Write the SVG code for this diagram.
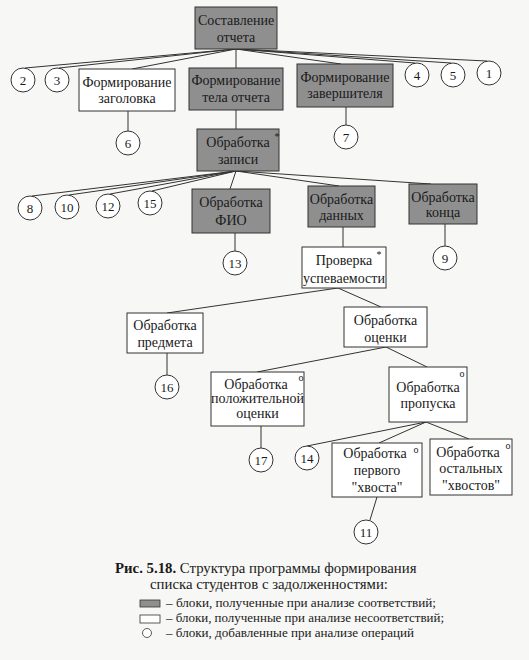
<svg xmlns="http://www.w3.org/2000/svg" width="529" height="660" viewBox="0 0 529 660">
<style>
  .g{fill:#8f8f8f;stroke:#333;stroke-width:1}
  .w{fill:#fff;stroke:#333;stroke-width:1}
  .c{fill:#fff;stroke:#333;stroke-width:1}
  .t{font-family:"Liberation Serif","Times New Roman",serif;font-size:14px;fill:#1a1a1a;text-anchor:middle}
  .n{font-family:"Liberation Serif","Times New Roman",serif;font-size:13px;fill:#1a1a1a;text-anchor:middle}
  .m{font-family:"Liberation Serif","Times New Roman",serif;font-size:10px;fill:#1a1a1a;text-anchor:middle}
  .cap{font-family:"Liberation Serif","Times New Roman",serif;font-size:14.8px;fill:#1a1a1a}
  .leg{font-family:"Liberation Serif","Times New Roman",serif;font-size:12px;fill:#1a1a1a}
  #connectors line{stroke:#333;stroke-width:1}
</style>
<rect width="529" height="660" fill="#f7f7f5"/>
<g id="connectors">
  <line x1="236" y1="49" x2="25" y2="68"/>
  <line x1="236" y1="49" x2="59" y2="68"/>
  <line x1="236" y1="49" x2="132" y2="69"/>
  <line x1="236" y1="49" x2="236" y2="68"/>
  <line x1="236" y1="49" x2="341" y2="64"/>
  <line x1="236" y1="49" x2="415" y2="63"/>
  <line x1="236" y1="49" x2="451" y2="63"/>
  <line x1="236" y1="49" x2="487" y2="61"/>
  <line x1="128" y1="111" x2="128" y2="131"/>
  <line x1="236" y1="110" x2="236" y2="129"/>
  <line x1="346" y1="107" x2="346" y2="125"/>
  <line x1="236" y1="171" x2="32" y2="196"/>
  <line x1="236" y1="171" x2="69" y2="195"/>
  <line x1="236" y1="171" x2="110" y2="194"/>
  <line x1="236" y1="171" x2="152" y2="191"/>
  <line x1="236" y1="171" x2="230" y2="189"/>
  <line x1="236" y1="171" x2="339" y2="186"/>
  <line x1="236" y1="171" x2="431" y2="184"/>
  <line x1="235" y1="233" x2="235" y2="251"/>
  <line x1="343" y1="227" x2="343" y2="247"/>
  <line x1="445" y1="224" x2="445" y2="246"/>
  <line x1="338" y1="288" x2="167" y2="313"/>
  <line x1="338" y1="288" x2="381" y2="307"/>
  <line x1="167" y1="353" x2="167" y2="375"/>
  <line x1="386" y1="347" x2="257" y2="372"/>
  <line x1="386" y1="347" x2="427" y2="367"/>
  <line x1="261" y1="426" x2="261" y2="448"/>
  <line x1="426" y1="422" x2="307" y2="446"/>
  <line x1="426" y1="422" x2="379" y2="443"/>
  <line x1="426" y1="422" x2="469" y2="439"/>
  <line x1="377" y1="497" x2="370" y2="520"/>
</g>
<g id="root"><rect class="g" x="195" y="7" width="82" height="42"/><text class="t" x="236" y="25">Составление</text><text class="t" x="236" y="42">отчета</text></g>
<g id="c2"><circle class="c" cx="23" cy="80" r="12"/><text class="n" x="23" y="84.5">2</text></g>
<g id="c3"><circle class="c" cx="57" cy="80" r="12"/><text class="n" x="57" y="84.5">3</text></g>
<g id="zag"><rect class="w" x="79" y="69" width="96" height="42"/><text class="t" x="127" y="86.5">Формирование</text><text class="t" x="127" y="103">заголовка</text></g>
<g id="telo"><rect class="g" x="189" y="68" width="94" height="42"/><text class="t" x="236" y="85">Формирование</text><text class="t" x="236" y="102">тела отчета</text></g>
<g id="zav"><rect class="g" x="297" y="64" width="96" height="43"/><text class="t" x="345" y="81.5">Формирование</text><text class="t" x="345" y="98">завершителя</text></g>
<g id="c4"><circle class="c" cx="417" cy="75" r="12"/><text class="n" x="417" y="79.5">4</text></g>
<g id="c5"><circle class="c" cx="453" cy="75" r="12"/><text class="n" x="453" y="79.5">5</text></g>
<g id="c1"><circle class="c" cx="489" cy="73" r="12"/><text class="n" x="489" y="77.5">1</text></g>
<g id="c6"><circle class="c" cx="128" cy="143" r="12"/><text class="n" x="128" y="147.5">6</text></g>
<g id="c7"><circle class="c" cx="346" cy="137" r="12"/><text class="n" x="346" y="141.5">7</text></g>
<g id="zapis"><rect class="g" x="197" y="129" width="82" height="42"/><text class="t" x="238" y="147">Обработка</text><text class="t" x="238" y="164">записи</text><text class="m" x="277" y="140">*</text></g>
<g id="c8"><circle class="c" cx="30" cy="208" r="12"/><text class="n" x="30" y="212.5">8</text></g>
<g id="c10"><circle class="c" cx="67" cy="207" r="12"/><text class="n" x="67" y="211.5">10</text></g>
<g id="c12"><circle class="c" cx="108" cy="206" r="12"/><text class="n" x="108" y="210.5">12</text></g>
<g id="c15"><circle class="c" cx="150" cy="203" r="12"/><text class="n" x="150" y="207.5">15</text></g>
<g id="fio"><rect class="g" x="192" y="189" width="78" height="44"/><text class="t" x="231" y="207">Обработка</text><text class="t" x="231" y="225">ФИО</text></g>
<g id="dannye"><rect class="g" x="308" y="186" width="67" height="41"/><text class="t" x="341.5" y="204">Обработка</text><text class="t" x="341.5" y="220">данных</text></g>
<g id="konec"><rect class="g" x="409" y="184" width="68" height="40"/><text class="t" x="443" y="201.5">Обработка</text><text class="t" x="443" y="217">конца</text></g>
<g id="c13"><circle class="c" cx="235" cy="263" r="12"/><text class="n" x="235" y="267.5">13</text></g>
<g id="c9"><circle class="c" cx="445" cy="258" r="12"/><text class="n" x="445" y="262.5">9</text></g>
<g id="proverka"><rect class="w" x="302" y="247" width="84" height="41"/><text class="t" x="344" y="265">Проверка</text><text class="t" x="344" y="283">успеваемости</text><text class="m" x="379" y="258">*</text></g>
<g id="predmet"><rect class="w" x="127" y="313" width="76" height="40"/><text class="t" x="165" y="330">Обработка</text><text class="t" x="165" y="347">предмета</text></g>
<g id="ocenka"><rect class="w" x="344" y="307" width="83" height="40"/><text class="t" x="385.5" y="324.5">Обработка</text><text class="t" x="385.5" y="341.5">оценки</text></g>
<g id="c16"><circle class="c" cx="167" cy="387" r="12"/><text class="n" x="167" y="391.5">16</text></g>
<g id="polozh"><rect class="w" x="211" y="372" width="93" height="54"/><text class="t" x="256" y="389">Обработка</text><text class="t" x="257.5" y="403">положительной</text><text class="t" x="257.5" y="418">оценки</text><text class="m" x="301" y="381">o</text></g>
<g id="propusk"><rect class="w" x="389" y="367" width="78" height="55"/><text class="t" x="428" y="392">Обработка</text><text class="t" x="428" y="408">пропуска</text><text class="m" x="462" y="377">o</text></g>
<g id="c17"><circle class="c" cx="261" cy="460" r="12"/><text class="n" x="261" y="464.5">17</text></g>
<g id="c14"><circle class="c" cx="307" cy="458" r="12"/><text class="n" x="307" y="462.5">14</text></g>
<g id="pervyj"><rect class="w" x="332" y="443" width="90" height="54"/><text class="t" x="375" y="458">Обработка</text><text class="t" x="377" y="475">первого</text><text class="t" x="377" y="492">"хвоста"</text><text class="m" x="416" y="453">o</text></g>
<g id="ostal"><rect class="w" x="430" y="439" width="82" height="56"/><text class="t" x="468" y="457">Обработка</text><text class="t" x="471" y="473">остальных</text><text class="t" x="471" y="490">"хвостов"</text><text class="m" x="508" y="449">o</text></g>
<g id="c11"><circle class="c" cx="366" cy="532" r="12"/><text class="n" x="366" y="536.5">11</text></g>
<g id="caption">
  <text class="cap" x="115" y="573"><tspan font-weight="bold">Рис. 5.18.</tspan> Структура программы формирования</text>
  <text class="cap" x="150" y="589">списка студентов с задолженностями:</text>
  <rect x="140" y="600" width="20" height="7" fill="#8f8f8f" stroke="#333" stroke-width="0.8"/>
  <text class="leg" x="166" y="607" textLength="270" lengthAdjust="spacingAndGlyphs">– блоки, полученные при анализе соответствий;</text>
  <rect x="140" y="615" width="20" height="8" fill="#fff" stroke="#333" stroke-width="0.8"/>
  <text class="leg" x="166" y="622" textLength="278" lengthAdjust="spacingAndGlyphs">– блоки, полученные при анализе несоответствий;</text>
  <circle cx="147" cy="633" r="4.5" fill="#fff" stroke="#333" stroke-width="0.8"/>
  <text class="leg" x="166" y="637" textLength="248" lengthAdjust="spacingAndGlyphs">– блоки, добавленные при анализе операций</text>
</g>
</svg>
